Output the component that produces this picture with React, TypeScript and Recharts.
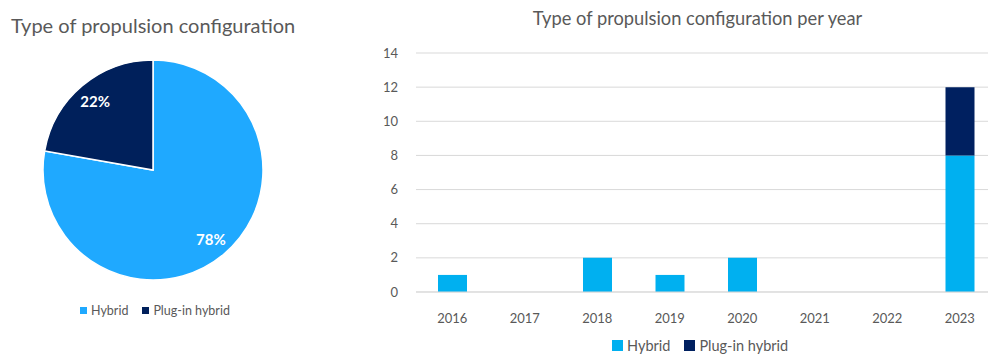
import React from 'react';
import { PieChart, Pie, Cell, BarChart, Bar, XAxis, YAxis, CartesianGrid } from 'recharts';

const pieNames = ['Hybrid', 'Plug-in hybrid'];
const pieValues = [14, 4];
const pieColors = ['#1FA9FF', '#00205B'];

const years = ['2016', '2017', '2018', '2019', '2020', '2021', '2022', '2023'];
const hybridPerYear = [1, 0, 2, 1, 2, 0, 0, 8];
const plugInPerYear = [0, 0, 0, 0, 0, 0, 0, 4];
const yTicks = [0, 2, 4, 6, 8, 10, 12, 14];
const barColors = ['#00B0F0', '#002060'];

const pieData = pieNames.map((name, i) => ({ name, value: pieValues[i] }));
const barData = years.map((year, i) => ({ year, hybrid: hybridPerYear[i], plugin: plugInPerYear[i] }));

const FONT = 'Lato, "Open Sans", sans-serif';
const GRAY = '#595959';
const RAD = Math.PI / 180;

const renderPieLabel = (p: any) => {
  const r = 90;
  const x = p.cx + r * Math.cos(-p.midAngle * RAD);
  const y = p.cy + r * Math.sin(-p.midAngle * RAD);
  return (
    <text x={x} y={y} fill="#fff" fontSize={15} fontWeight={700} fontFamily={FONT} textAnchor="middle" dominantBaseline="central">
      {`${Math.round(p.percent * 100)}%`}
    </text>
  );
};

const LegendItem = ({ color, label, size, gap }: any) => (
  <span style={{ display: 'inline-flex', alignItems: 'center', marginRight: gap }}>
    <span style={{ width: size, height: size, background: color, display: 'inline-block', marginRight: 4 }} />
    {label}
  </span>
);

export default function App() {
  return (
    <div style={{ position: 'absolute', left: 0, top: 0, width: 988, height: 354, overflow: 'hidden', background: '#fff', fontFamily: FONT }}>
      <div style={{ position: 'absolute', left: 11, top: 13, fontSize: 20, color: GRAY, whiteSpace: 'nowrap' }}>
        Type of propulsion configuration
      </div>
      <div style={{ position: 'absolute', left: 0, top: 0 }}>
        <PieChart width={330} height={354} margin={{ top: 0, right: 0, bottom: 0, left: 0 }}>
          <Pie
            data={pieData}
            dataKey="value"
            nameKey="name"
            cx={153}
            cy={170}
            outerRadius={110}
            startAngle={90}
            endAngle={-270}
            stroke="#fff"
            strokeWidth={1.5}
            label={renderPieLabel}
            labelLine={false}
            isAnimationActive={false}
          >
            {pieData.map((d, i) => (
              <Cell key={d.name} fill={pieColors[i]} />
            ))}
          </Pie>
        </PieChart>
      </div>
      <div style={{ position: 'absolute', left: 80, top: 302, fontSize: 12.5, color: GRAY, whiteSpace: 'nowrap' }}>
        <LegendItem color={pieColors[0]} label={pieNames[0]} size={7} gap={14} />
        <LegendItem color={pieColors[1]} label={pieNames[1]} size={7} gap={0} />
      </div>

      <div style={{ position: 'absolute', left: 340, top: 7, width: 715, textAlign: 'center', fontSize: 18.3, color: GRAY, whiteSpace: 'nowrap' }}>
        Type of propulsion configuration per year
      </div>
      <div style={{ position: 'absolute', left: 340, top: 0 }}>
        <BarChart width={660} height={354} data={barData} margin={{ top: 53, right: 4, bottom: 32, left: 0 }}>
          <CartesianGrid vertical={false} stroke="#D9D9D9" />
          <XAxis
            dataKey="year"
            height={30}
            tickLine={false}
            tickSize={0}
            tickMargin={22}
            axisLine={{ stroke: '#D9D9D9' }}
            tick={{ fill: GRAY, fontSize: 13, fontFamily: FONT }}
          />
          <YAxis
            width={76}
            domain={[0, 14]}
            ticks={yTicks}
            axisLine={false}
            tickLine={false}
            tickSize={0}
            tickMargin={18}
            tick={{ fill: GRAY, fontSize: 13, fontFamily: FONT }}
          />
          <Bar dataKey="hybrid" stackId="a" fill={barColors[0]} barSize={29} isAnimationActive={false} />
          <Bar dataKey="plugin" stackId="a" fill={barColors[1]} barSize={29} isAnimationActive={false} />
        </BarChart>
      </div>
      <div style={{ position: 'absolute', left: 612, top: 337, fontSize: 14.5, color: GRAY, whiteSpace: 'nowrap' }}>
        <LegendItem color={barColors[0]} label="Hybrid" size={11} gap={14} />
        <LegendItem color={barColors[1]} label="Plug-in hybrid" size={11} gap={0} />
      </div>
    </div>
  );
}
